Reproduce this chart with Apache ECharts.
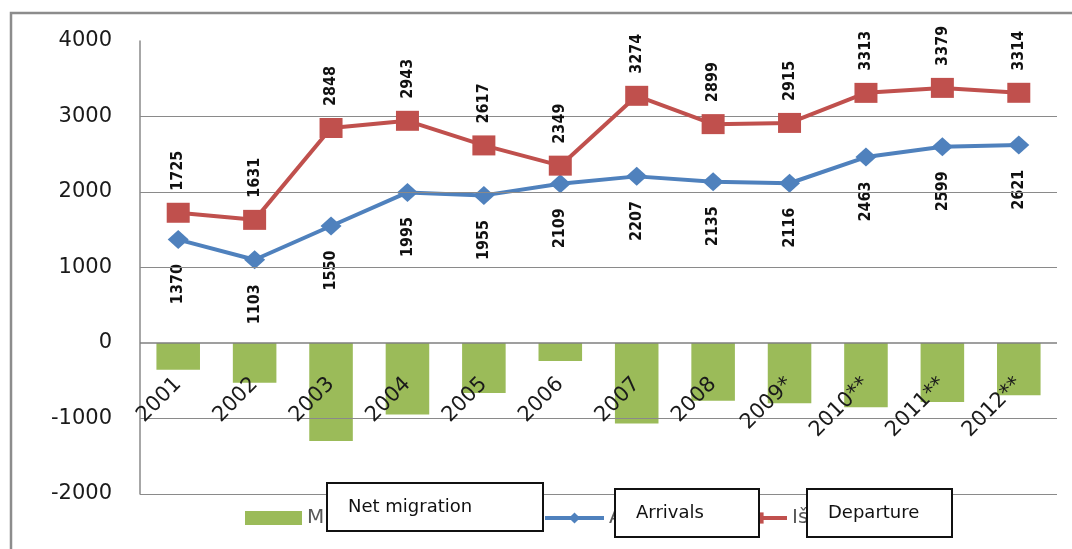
<!DOCTYPE html>
<html>
<head>
<meta charset="utf-8">
<script src="https://cdn.jsdelivr.net/npm/echarts@6/dist/echarts.min.js"></script>
<style>
  html, body { margin: 0; padding: 0; background: #ffffff; }
  #chart { width: 1072px; height: 549px; }
</style>
</head>
<body>
<div id="chart"></div>
<script>
// Years (asterisks mark provisional figures)
const categories = ['2001', '2002', '2003', '2004', '2005', '2006', '2007', '2008', '2009*', '2010**', '2011**', '2012**'];
// Arrivals per year
const arrivals = [1370, 1103, 1550, 1995, 1955, 2109, 2207, 2135, 2116, 2463, 2599, 2621];
// Departures per year
const departures = [1725, 1631, 2848, 2943, 2617, 2349, 3274, 2899, 2915, 3313, 3379, 3314];
// Net migration per year
const netMigration = [-355, -528, -1298, -948, -662, -240, -1067, -764, -799, -850, -780, -693];
// Value axis range and the horizontal grid lines drawn across the plot
const yMin = -2000, yMax = 4000, yStep = 1000;
const gridValues = [-2000, -1000, 1000, 2000, 3000];
const zeroValue = 0;
// Series names as printed in the legend, and the captions laid over them
const seriesNames = ['Migracijos saldo', 'Atvykę', 'Išvykę'];
const captions = ['Net migration', 'Arrivals', 'Departure'];

const GREEN = '#9BBB59', BLUE = '#4F81BD', RED = '#C0504D';
const GRID_COLOR = '#8a8a8a';
const valueFont = "'DejaVu Sans Condensed', 'DejaVu Sans', sans-serif";

const chart = echarts.init(document.getElementById('chart'), null, { renderer: 'canvas' });

function legendFor(name, left, width) {
  return {
    left: left, top: 508, padding: 0, itemGap: 0,
    itemWidth: width, itemHeight: 14,
    data: [name],
    selectedMode: false,
    lineStyle: { width: 4 },
    textStyle: { fontFamily: 'DejaVu Sans', fontSize: 20, color: '#595959' }
  };
}

function captionBox(text, x, y, w, h) {
  return {
    type: 'group', z: 100,
    children: [
      { type: 'rect', z: 100, shape: { x: x, y: y, width: w, height: h },
        style: { fill: '#ffffff', stroke: '#111111', lineWidth: 2 } },
      { type: 'text', z: 101, style: { text: text, x: x + 21, y: y + h / 2, verticalAlign: 'middle',
        fill: '#111111', font: "18px 'DejaVu Sans', sans-serif" } }
    ]
  };
}

const option = {
  backgroundColor: '#ffffff',
  animation: false,
  grid: { left: 140, right: 15, top: 41, bottom: 55, containLabel: false, outerBoundsMode: 'none' },
  legend: [
    Object.assign(legendFor(seriesNames[0], 245, 57), { icon: 'rect' }),
    legendFor(seriesNames[1], 543, 59),
    legendFor(seriesNames[2], 727, 58)
  ],
  xAxis: {
    type: 'category',
    data: categories,
    z: 6,
    axisLine: { show: false, onZero: false },
    axisTick: { show: false },
    axisLabel: {
      rotate: 45, margin: -113, interval: 0,
      fontFamily: 'DejaVu Sans', fontSize: 21, color: '#1a1a1a'
    },
    splitLine: { show: false }
  },
  yAxis: {
    type: 'value',
    min: yMin, max: yMax, interval: yStep,
    axisLine: { show: true, lineStyle: { color: GRID_COLOR, width: 1.5 } },
    axisTick: { show: false },
    axisLabel: { margin: 28, fontFamily: 'DejaVu Sans', fontSize: 21, color: '#1a1a1a',
      formatter: v => String(v) },
    splitLine: { show: false }
  },
  series: [
    {
      name: 'gridlines', type: 'line', data: [], z: 1, silent: true,
      markLine: {
        silent: true, symbol: 'none', label: { show: false },
        lineStyle: { color: GRID_COLOR, width: 1.2, type: 'solid' },
        data: gridValues.map(v => ({ yAxis: v }))
      }
    },
    {
      name: seriesNames[0], type: 'bar', data: netMigration, z: 2,
      barWidth: '57%',
      itemStyle: { color: GREEN }
    },
    {
      name: 'zeroline', type: 'line', data: [], z: 3, silent: true,
      markLine: {
        silent: true, symbol: 'none', label: { show: false },
        lineStyle: { color: '#7f7f7f', width: 1.5, type: 'solid' },
        data: [{ yAxis: zeroValue }]
      }
    },
    {
      name: seriesNames[1], type: 'line', data: arrivals, z: 4,
      symbol: 'diamond', symbolSize: [21, 19],
      lineStyle: { color: BLUE, width: 4 },
      itemStyle: { color: BLUE },
      label: {
        show: true, position: 'bottom', distance: 15, rotate: 90,
        align: 'right', verticalAlign: 'middle',
        fontFamily: valueFont, fontWeight: 'bold', fontSize: 16, color: '#111111'
      }
    },
    {
      name: seriesNames[2], type: 'line', data: departures, z: 5,
      symbol: 'rect', symbolSize: [23, 20],
      lineStyle: { color: RED, width: 4 },
      itemStyle: { color: RED },
      label: {
        show: true, position: 'top', distance: 12, rotate: 90,
        align: 'left', verticalAlign: 'middle',
        fontFamily: valueFont, fontWeight: 'bold', fontSize: 16, color: '#111111'
      }
    }
  ],
  graphic: [
    { type: 'rect', z: -1, shape: { x: 11, y: 13, width: 1100, height: 600 },
      style: { fill: 'none', stroke: '#8c8c8c', lineWidth: 2.5 } },
    captionBox(captions[0], 327, 483, 216, 48),
    captionBox(captions[1], 615, 489, 144, 48),
    captionBox(captions[2], 807, 489, 145, 48)
  ]
};

chart.setOption(option);
</script>
</body>
</html>
